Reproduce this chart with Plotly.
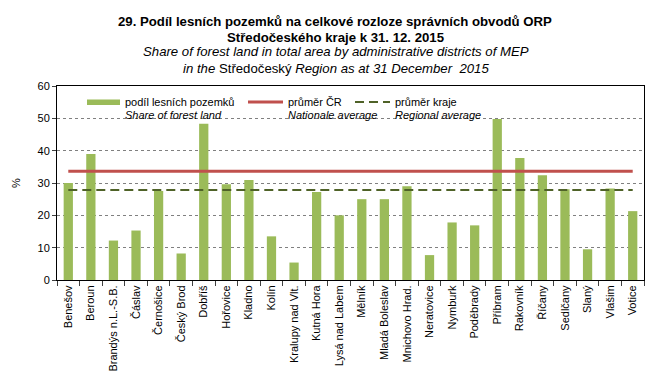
import plotly.graph_objects as go

categories = ["Benešov", "Beroun", "Brandýs n.L.-S.B.", "Čáslav", "Černošice", "Český Brod",
              "Dobříš", "Hořovice", "Kladno", "Kolín", "Kralupy nad Vlt.", "Kutná Hora",
              "Lysá nad Labem", "Mělník", "Mladá Boleslav", "Mnichovo Hrad.", "Neratovice",
              "Nymburk", "Poděbrady", "Příbram", "Rakovník", "Říčany", "Sedlčany", "Slaný",
              "Vlašim", "Votice"]
forest_share = [30.0, 39.0, 12.2, 15.3, 27.5, 8.2, 48.3, 29.6, 30.9, 13.5, 5.4, 27.2,
                20.0, 25.0, 25.0, 29.0, 7.7, 17.8, 16.9, 49.8, 37.7, 32.4, 28.1, 9.5,
                28.3, 21.3]
national_avg = 33.6
regional_avg = 27.8
y_ticks = [0, 10, 20, 30, 40, 50, 60]

GREEN = "#9BBB59"
RED = "#C0504D"
DARK = "#4F6228"
FONT = "Arial, Liberation Sans, sans-serif"

fig = go.Figure()
fig.add_trace(go.Bar(x=categories, y=forest_share, marker=dict(color=GREEN, line=dict(width=0)),
                     name="podíl lesních pozemků", showlegend=False))
fig.add_trace(go.Scatter(x=categories, y=[national_avg] * len(categories), mode="lines",
                         line=dict(color=RED, width=3), showlegend=False))
fig.add_trace(go.Scatter(x=categories, y=[regional_avg] * len(categories), mode="lines",
                         line=dict(color=DARK, width=2, dash="9px,5px"), showlegend=False))

L, R, T, B = 57, 22, 86, 106
W, H = 666, 386
pw, ph = W - L - R, H - T - B

def px(xp):
    return (xp - L) / pw

def py(yp):
    return (H - B - yp) / ph

shapes = [
    dict(type="rect", xref="paper", yref="paper", x0=px(87), x1=px(120), y0=py(105), y1=py(99.5),
         fillcolor=GREEN, line=dict(width=0)),
    dict(type="line", xref="paper", yref="paper", x0=px(248), x1=px(283), y0=py(102), y1=py(102),
         line=dict(color=RED, width=3)),
    dict(type="line", xref="paper", yref="paper", x0=px(355), x1=px(390), y0=py(102), y1=py(102),
         line=dict(color=DARK, width=2, dash="9px,5px")),
]

annotations = []
def txt(text, xp, yp, size=11, xanchor="left"):
    annotations.append(dict(text=text, xref="paper", yref="paper", x=px(xp), y=py(yp),
                            xanchor=xanchor, yanchor="middle", showarrow=False,
                            font=dict(family=FONT, size=size, color="black")))

txt("podíl lesních pozemků", 123, 102)
txt("<i>Share of forest land</i>", 123, 115)
txt("průměr ČR", 286, 102)
txt("<i>Nationale average</i>", 286, 115)
txt("průměr kraje", 393, 102)
txt("<i>Regional average</i>", 393, 115)

txt("<b>29. Podíl lesních pozemků na celkové rozloze správních obvodů ORP</b>", 335, 21, 13.2, "center")
txt("<b>Středočeského kraje k 31. 12. 2015</b>", 335, 37, 13.2, "center")
txt("<i>Share of forest land in total area by administrative districts of MEP</i>", 336, 52, 13.2, "center")
txt("<i>in the </i>Středočeský<i> Region as at 31 December  2015</i>", 336, 68, 13.2, "center")

fig.update_layout(
    width=W, height=H,
    margin=dict(l=L, r=R, t=T, b=B, pad=0),
    paper_bgcolor="white", plot_bgcolor="white",
    bargap=0.59,
    font=dict(family=FONT, size=11, color="black"),
    shapes=shapes, annotations=annotations,
    xaxis=dict(type="category", tickangle=-90, ticks="outside", tickson="boundaries",
               ticklen=5, tickcolor="#404040", showline=True, linecolor="black", linewidth=1,
               mirror=True, showgrid=False, tickfont=dict(size=11), range=[-0.5, len(categories) - 0.5],
               automargin=False),
    yaxis=dict(range=[0, 60], tickvals=y_ticks, ticks="outside", ticklen=4, tickcolor="#404040",
               showline=True, linecolor="black", linewidth=1, mirror=True,
               showgrid=True, gridcolor="#808080", griddash="dot", gridwidth=1,
               zeroline=False, tickfont=dict(size=11), automargin=False,
               title=dict(text="%", font=dict(size=11), standoff=14)),
)

fig.write_html("out.html", config={"displayModeBar": False},
               post_script="document.body.style.margin='0';document.body.style.padding='0';")
